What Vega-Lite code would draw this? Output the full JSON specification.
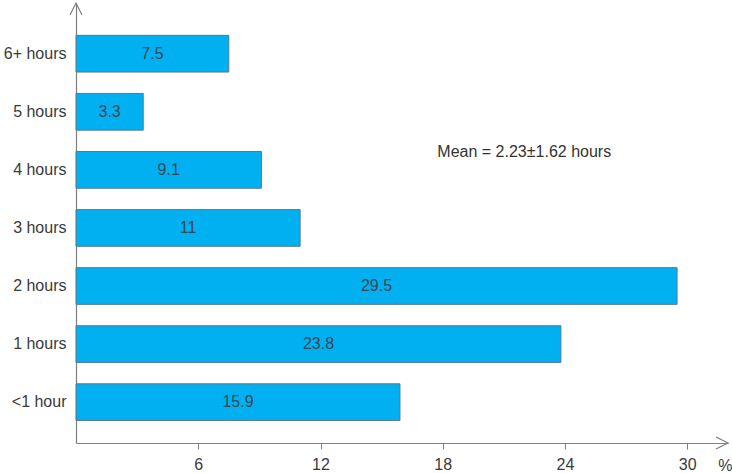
{
  "$schema": "https://vega.github.io/schema/vega-lite/v6.json",
  "autosize": {"type": "none"},
  "padding": {"left": 76, "top": 3, "right": 4, "bottom": 30},
  "width": 652,
  "height": 440,
  "background": "white",
  "config": {
    "view": {"stroke": null},
    "font": "Liberation Sans",
    "axis": {"labelFont": "Liberation Sans", "labelColor": "#3a3a3a", "labelFontSize": 16, "domainColor": "#7f7f7f", "tickColor": "#7f7f7f", "grid": false}
  },
  "datasets": {
    "bars": [
      {"category": "6+ hours", "pct": 7.5, "label": "7.5"},
      {"category": "5 hours", "pct": 3.3, "label": "3.3"},
      {"category": "4 hours", "pct": 9.1, "label": "9.1"},
      {"category": "3 hours", "pct": 11, "label": "11"},
      {"category": "2 hours", "pct": 29.5, "label": "29.5"},
      {"category": "1 hours", "pct": 23.8, "label": "23.8"},
      {"category": "<1 hour", "pct": 15.9, "label": "15.9"}
    ]
  },
  "layer": [
    {
      "data": {"name": "bars"},
      "mark": {"type": "bar", "fill": "#00B0F0", "stroke": "#5A7A8A", "strokeWidth": 1},
      "encoding": {
        "y": {
          "field": "category", "type": "nominal",
          "scale": {"domain": ["6+ hours", "5 hours", "4 hours", "3 hours", "2 hours", "1 hours", "<1 hour"], "paddingInner": 0.368, "paddingOuter": 0.472, "align": 0.59},
          "axis": {"title": null, "ticks": false, "tickSize": 0, "labelPadding": 10, "domainWidth": 1.2}
        },
        "x": {
          "field": "pct", "type": "quantitative",
          "scale": {"domain": [0, 32], "nice": false},
          "axis": {
            "values": [6, 12, 18, 24, 30], "tickSize": 6, "labelPadding": 7, "domainWidth": 1.2,
            "title": "%", "titleAnchor": "end", "titleAngle": 0, "titleFontWeight": "normal",
            "titleFontSize": 16, "titleColor": "#3a3a3a", "titleFont": "Liberation Sans",
            "titleBaseline": "middle", "titleY": 22, "titleX": 656, "titleAlign": "right"
          }
        }
      }
    },
    {
      "data": {"name": "bars"},
      "transform": [{"calculate": "datum.pct / 2", "as": "mid"}],
      "mark": {"type": "text", "fontSize": 16, "color": "#34495a", "align": "center", "baseline": "middle"},
      "encoding": {
        "y": {"field": "category", "type": "nominal"},
        "x": {"field": "mid", "type": "quantitative"},
        "text": {"field": "label"}
      }
    },
    {
      "data": {"values": [{"t": "Mean = 2.23\u00b11.62 hours", "x": 22.0, "c": "4 hours"}]},
      "mark": {"type": "text", "fontSize": 16, "color": "#333333", "align": "center", "baseline": "alphabetic", "dy": 5},
      "encoding": {
        "x": {"field": "x", "type": "quantitative"},
        "y": {"field": "c", "type": "nominal", "bandPosition": 0},
        "text": {"field": "t"}
      }
    },
    {
      "data": {"values": [{"x": 32}]},
      "mark": {"type": "point", "shape": "M-2,-1L0,0L-2,1", "size": 144, "filled": false, "stroke": "#7f7f7f", "strokeWidth": 1.2, "opacity": 1},
      "encoding": {
        "x": {"field": "x", "type": "quantitative"},
        "y": {"value": "height"}
      }
    },
    {
      "data": {"values": [{"x": 0}]},
      "mark": {"type": "point", "shape": "M-1,2L0,0L1,2", "size": 144, "filled": false, "stroke": "#7f7f7f", "strokeWidth": 1.2, "opacity": 1},
      "encoding": {
        "x": {"field": "x", "type": "quantitative"},
        "y": {"value": 0}
      }
    }
  ]
}
